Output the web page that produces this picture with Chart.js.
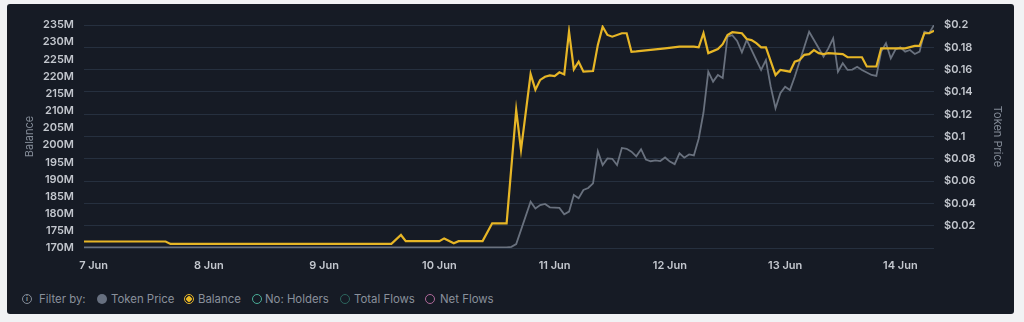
<!DOCTYPE html>
<html>
<head>
<meta charset="utf-8">
<script src="https://cdn.jsdelivr.net/npm/chart.js@4/dist/chart.umd.min.js"></script>
<style>
  html, body { margin: 0; padding: 0; background: #f1f2f4; }
  body { width: 1024px; height: 322px; position: relative; overflow: hidden; font-family: Inter, "Noto Sans", sans-serif; }
  .card { position: absolute; left: 7px; top: 4px; width: 1007px; height: 310px; background: #161b25; border-radius: 3px; }
  .chart-box { position: absolute; left: 0; top: 0; width: 1007px; height: 276px; }
  .filters { position: absolute; left: 0; top: 287px; height: 16px; width: 100%; font-size: 11.4px; color: #89909b; }
  .filters span { position: absolute; top: 0; line-height: 16px; white-space: nowrap; }
  .dot { width: 10px; height: 10px; border-radius: 50%; box-sizing: border-box; top: 3px !important; }
  .info { width: 10px; height: 10px; border: 1px solid #858d99; border-radius: 50%; box-sizing: border-box; top: 3px !important;
          font-size: 7px; line-height: 8px !important; text-align: center; font-weight: 700; }
</style>
</head>
<body>
<div class="card">
  <div class="chart-box"><canvas id="chart"></canvas></div>
  <div class="filters">
    <span class="info" style="left:15px">i</span>
    <span style="left:32px">Filter by:</span>
    <span class="dot" style="left:90px;background:#677080"></span>
    <span style="left:104px">Token Price</span>
    <span class="dot" style="left:177px;border:1.5px solid #e6b52a;background:radial-gradient(circle,#e9b824 0 2.5px,#161b25 3px)"></span>
    <span style="left:191px">Balance</span>
    <span class="dot" style="left:245px;border:1.5px solid #4aae98"></span>
    <span style="left:258px">No: Holders</span>
    <span class="dot" style="left:333px;border:1.5px solid #2c655d"></span>
    <span style="left:347px">Total Flows</span>
    <span class="dot" style="left:418px;border:1.5px solid #b0699a"></span>
    <span style="left:433px">Net Flows</span>
  </div>
</div>

<script>
// ====== data ======
const dayLabels = ["7 Jun", "8 Jun", "9 Jun", "10 Jun", "11 Jun", "12 Jun", "13 Jun", "14 Jun"];
const dayHours = [0, 24, 48, 72, 96, 120, 144, 168];

// hours since 7 Jun 00:00, balance in millions
const balanceHours = [-2, 15, 16, 62, 64, 65, 72, 73, 75, 76, 81, 83, 86, 88, 89, 91, 92, 93, 94, 95,
  96, 97, 98, 99, 100, 101, 102, 104, 105, 106, 107, 108, 110, 111, 112, 113, 117, 119, 122, 125,
  126, 127, 128, 130, 131, 132, 133, 135, 136, 137, 138, 139, 140, 142, 143, 145, 146, 147, 148, 149,
  150, 151, 152, 153, 156, 157, 160, 161, 163, 164, 169, 171, 172, 173, 174, 175];
const balanceValues = [171.9, 171.9, 171.2, 171.2, 173.8, 172.0, 172.0, 172.8, 171.4, 172.0, 172.0, 177.2, 177.2, 210.2, 198.6, 220.7, 216.1, 219.0, 219.9, 220.3,
  220.1, 221.2, 220.6, 233.1, 222.1, 224.3, 221.4, 221.6, 229.2, 234.5, 232.1, 231.6, 232.6, 232.6, 227.2, 227.3, 227.9, 228.2, 228.7, 228.7,
  228.5, 232.6, 226.8, 228.0, 229.4, 232.1, 232.9, 232.6, 230.9, 230.6, 229.7, 228.5, 228.5, 220.4, 221.9, 221.4, 224.3, 224.8, 226.3, 226.5,
  227.7, 226.8, 226.5, 226.8, 226.5, 225.6, 225.6, 222.9, 222.9, 228.2, 228.2, 228.9, 228.9, 232.6, 232.6, 233.3];

// token price in USD
const priceHours = [-2, 86, 87, 88, 91, 92, 93, 94, 95, 97, 98, 99, 100, 101, 102, 103, 104, 105, 106, 107,
  108, 109, 110, 111, 112, 113, 114, 115, 116, 117, 118, 119, 120, 121, 122, 123, 124, 125, 126, 127,
  128, 129, 130, 131, 132, 133, 134, 135, 136, 137, 138, 139, 140, 141, 142, 143, 144, 145, 146, 147,
  148, 149, 150, 151, 152, 153, 154, 155, 156, 157, 158, 159, 160, 162, 163, 164, 165, 166, 167, 168,
  169, 170, 171, 172, 173, 174, 175];
const priceValues = [0.0005, 0.0005, 0.001, 0.0035, 0.0415, 0.0355, 0.0385, 0.0395, 0.0365, 0.036, 0.0302, 0.0326, 0.0475, 0.0446, 0.052, 0.0538, 0.058, 0.0867, 0.0744, 0.0804,
  0.08, 0.0744, 0.0897, 0.089, 0.0864, 0.0822, 0.0886, 0.0794, 0.0778, 0.0785, 0.078, 0.0812, 0.0775, 0.0752, 0.0849, 0.081, 0.0839, 0.083, 0.098, 0.1215,
  0.1581, 0.1492, 0.1552, 0.1525, 0.1895, 0.1908, 0.1857, 0.1755, 0.1866, 0.1776, 0.1686, 0.1597, 0.1686, 0.1447, 0.1253, 0.1388, 0.1447, 0.1417, 0.1536, 0.1671,
  0.1805, 0.194, 0.1866, 0.1791, 0.1716, 0.179, 0.1881, 0.1581, 0.1657, 0.1597, 0.16, 0.1626, 0.1597, 0.1552, 0.1543, 0.1761, 0.1836, 0.1701, 0.1782, 0.18,
  0.1761, 0.1776, 0.174, 0.1761, 0.194, 0.1926, 0.2];

const balanceTicks = [170, 175, 180, 185, 190, 195, 200, 205, 210, 215, 220, 225, 230, 235];
const priceTicks = [0, 0.02, 0.04, 0.06, 0.08, 0.1, 0.12, 0.14, 0.16, 0.18, 0.2];

// ====== helpers ======
const toPoints = (xs, ys) => xs.map((x, i) => ({ x, y: ys[i] }));
const setTicks = list => scale => { scale.ticks = list.map(v => ({ value: v })); };

const tickFont = { family: "Inter", size: 11, weight: "600" };
const titleFont = { family: "Inter", size: 11 };

// ====== chart ======
new Chart(document.getElementById("chart"), {
  type: "line",
  data: {
    datasets: [
      {
        label: "Balance",
        data: toPoints(balanceHours, balanceValues),
        yAxisID: "y",
        borderColor: "#e7b626",
        borderWidth: 2.2,
        pointRadius: 0,
        tension: 0
      },
      {
        label: "Token Price",
        data: toPoints(priceHours, priceValues),
        yAxisID: "y1",
        borderColor: "#69717e",
        borderWidth: 1.8,
        pointRadius: 0,
        tension: 0
      }
    ]
  },
  options: {
    responsive: true,
    maintainAspectRatio: false,
    animation: false,
    events: [],
    layout: { padding: { top: 21, bottom: 0, left: 0, right: 0 } },
    plugins: { legend: { display: false }, tooltip: { enabled: false } },
    scales: {
      x: {
        type: "linear",
        min: -2,
        max: 175,
        afterBuildTicks: setTicks(dayHours),
        afterFit: s => { s.height = 32; },
        grid: { display: false, drawTicks: false },
        border: { display: false },
        ticks: {
          autoSkip: false,
          maxRotation: 0,
          padding: 11,
          color: "#c3c7ce",
          font: tickFont,
          callback: (v, i) => dayLabels[i]
        }
      },
      y: {
        position: "left",
        min: 170,
        max: 235,
        afterBuildTicks: setTicks(balanceTicks),
        afterFit: s => { s.width = 77; },
        grid: { display: false, drawTicks: false },
        border: { display: false },
        title: { display: true, text: "Balance", color: "#838b97", font: titleFont, padding: { top: 16, bottom: 0 } },
        ticks: { padding: 10, color: "#c3c7ce", font: tickFont, callback: v => v + "M" }
      },
      y1: {
        position: "right",
        min: 0,
        max: 0.2,
        afterBuildTicks: setTicks(priceTicks),
        afterFit: s => { s.width = 80; },
        grid: { color: "#26303f", lineWidth: 1, drawTicks: false },
        border: { display: false },
        title: { display: true, text: "Token Price", color: "#838b97", font: titleFont, padding: { top: 10, bottom: 0 } },
        ticks: {
          padding: 10,
          color: "#c3c7ce",
          font: tickFont,
          callback: v => (v === 0 ? "" : "$" + Number(v.toFixed(2)))
        }
      }
    }
  }
});
</script>
</body>
</html>
